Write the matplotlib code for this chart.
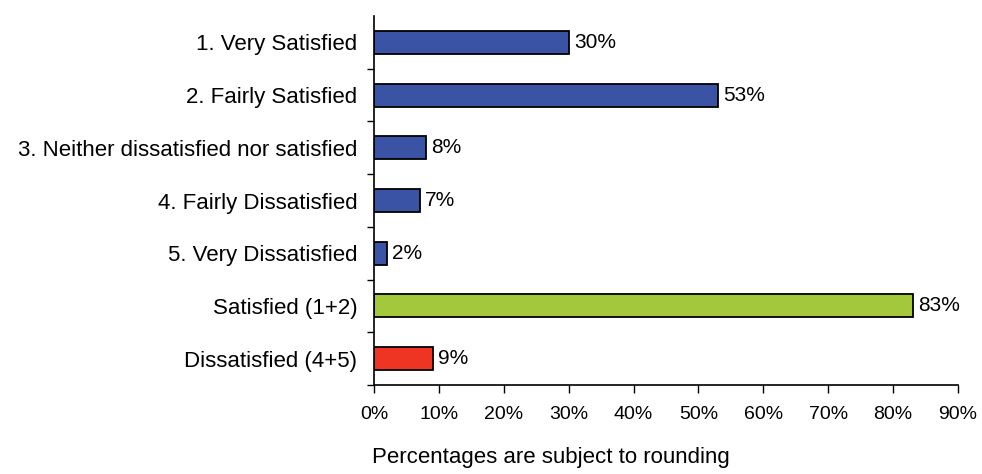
import matplotlib
matplotlib.use("Agg")
import matplotlib.pyplot as plt

categories = [
    "1. Very Satisfied",
    "2. Fairly Satisfied",
    "3. Neither dissatisfied nor satisfied",
    "4. Fairly Dissatisfied",
    "5. Very Dissatisfied",
    "Satisfied (1+2)",
    "Dissatisfied (4+5)",
]
values = [30, 53, 8, 7, 2, 83, 9]
colors = ["#3a53a4"] * 5 + ["#a3c83c", "#ee3524"]
xticks = [0, 10, 20, 30, 40, 50, 60, 70, 80, 90]

plt.rcParams["font.family"] = ["Liberation Sans", "DejaVu Sans"]

fig = plt.figure(figsize=(9.82, 4.74), dpi=100)
ax = fig.add_axes([0.381, 0.188, 0.5945, 0.778])

ys = list(range(len(categories)))
ax.barh(ys, values, height=0.44, color=colors, edgecolor="black", linewidth=1.3)
for y, v in zip(ys, values):
    ax.text(v + 0.8, y, f"{v}%", va="center", ha="left", fontsize=15)

ax.set_ylim(len(categories) - 0.5, -0.5)
ax.set_xlim(0, 90)
ax.set_yticks(ys)
ax.set_yticklabels(categories, fontsize=16)
ax.tick_params(axis="y", length=0, pad=12)
ax.set_yticks([y + 0.5 for y in ys], minor=True)
ax.tick_params(axis="y", which="minor", length=5, width=1, direction="out")
ax.set_xticks(xticks)
ax.set_xticklabels([f"{t}%" for t in xticks], fontsize=14)
ax.tick_params(axis="x", length=6, width=1, direction="out", pad=9)

for s in ["top", "right"]:
    ax.spines[s].set_visible(False)
for s in ["left", "bottom"]:
    ax.spines[s].set_linewidth(1.2)

fig.text(0.379, 0.034, "Percentages are subject to rounding", ha="left",
         va="center", fontsize=16)

fig.savefig("out.png", dpi=100)
